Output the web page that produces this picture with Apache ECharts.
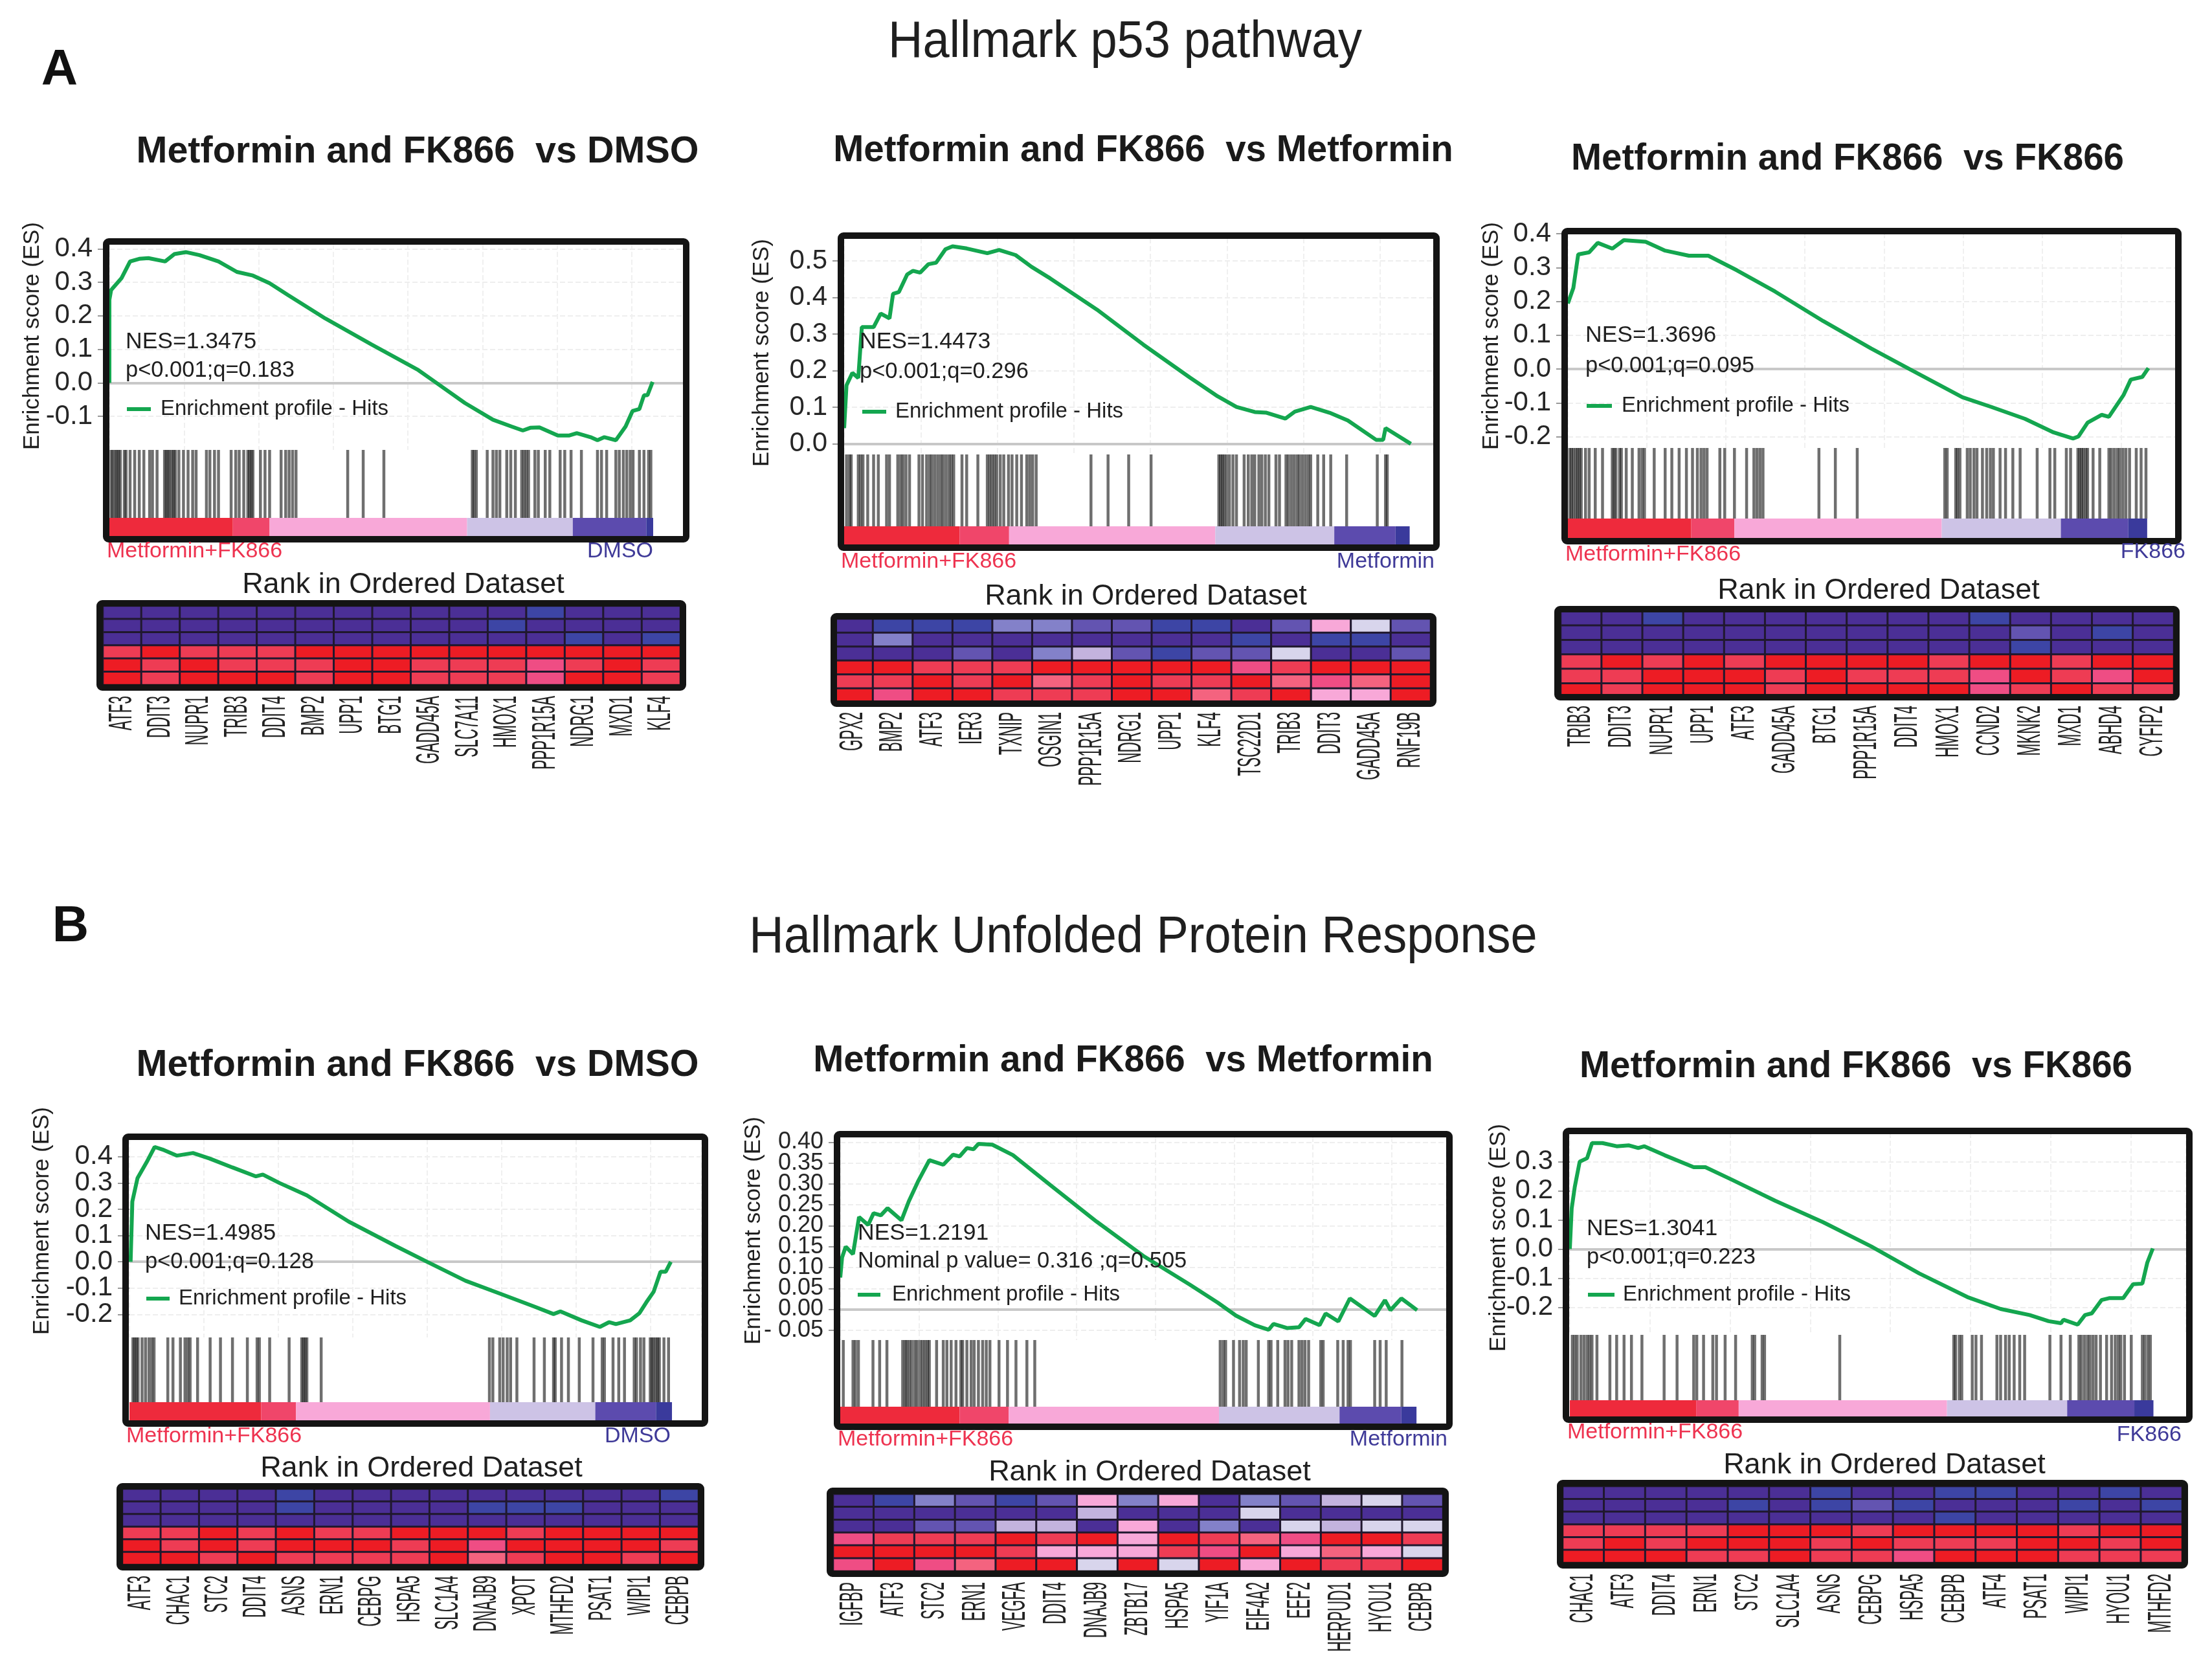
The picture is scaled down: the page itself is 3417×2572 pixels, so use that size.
<!DOCTYPE html>
<html><head><meta charset="utf-8">
<style>html,body{margin:0;padding:0;background:#fff}#c{width:3417px;height:2572px}</style>
<script src="https://cdn.jsdelivr.net/npm/echarts@6/dist/echarts.min.js"></script>
</head><body><div id="c"></div>
<script>
// ---------- data: enrichment curves [rank %, ES] ----------
const curveA1=[[0,0],[0,.248],[.3,.277],[2.1,.312],[3.6,.362],[5.2,.37],[6.8,.372],[9.7,.362],[11.3,.384],[13.3,.39],[15.7,.381],[19,.362],[22.2,.331],[25,.32],[27.9,.297],[31.1,.262],[37.6,.192],[45.7,.114],[53.8,.038],[56.7,.003],[61.9,-.06],[66.8,-.11],[70,-.13],[72,-.142],[73.3,-.134],[74.9,-.133],[78.1,-.157],[80.1,-.157],[81.4,-.15],[83.8,-.162],[85,-.171],[86.2,-.162],[88.2,-.171],[89.9,-.13],[91.1,-.084],[92.3,-.078],[93.1,-.037],[93.7,-.037],[94.6,.003]];
const curveA2=[[0,.043],[.4,.16],[1.4,.194],[2.4,.18],[3,.319],[5,.319],[6.2,.356],[7.7,.343],[8.3,.41],[9.3,.415],[10.7,.463],[11.7,.473],[12.9,.468],[14.3,.491],[15.6,.495],[17.2,.532],[18.4,.54],[20.8,.534],[24.3,.521],[26.3,.53],[29.1,.516],[31.8,.484],[35,.452],[42.9,.367],[50.8,.271],[58.7,.181],[63.4,.13],[66.6,.101],[69.7,.087],[71.7,.085],[74.9,.069],[76.5,.088],[79.2,.101],[82.4,.085],[85.5,.064],[90.3,.011],[91.5,.011],[91.9,.043],[96.2,0]];
const curveA3=[[0,.194],[.9,.24],[1.7,.339],[3.5,.345],[4.9,.373],[7.3,.356],[9.2,.381],[12.8,.376],[16,.35],[19.9,.335],[23.1,.335],[27.8,.292],[34.1,.229],[42,.142],[49.9,.061],[56.2,0],[64.9,-.083],[69.7,-.112],[75.2,-.147],[79.9,-.187],[83.1,-.205],[84,-.199],[85.5,-.158],[87.8,-.135],[89,-.141],[91.4,-.077],[92.6,-.031],[94.5,-.023],[95.5,.003]];
const curveB1=[[.2,0],[.5,.229],[1.4,.318],[3,.379],[4.4,.437],[5.8,.427],[8.3,.404],[11.1,.414],[14,.393],[18,.359],[22.1,.325],[23.3,.332],[26.2,.3],[31,.253],[38.3,.153],[46.5,.06],[52,.0],[58.7,-.072],[65.1,-.124],[70.8,-.171],[74.1,-.199],[75.3,-.189],[79,-.223],[82.2,-.248],[83.8,-.23],[85,-.237],[87.5,-.223],[89.1,-.196],[90.3,-.155],[91.6,-.114],[92.8,-.038],[93.7,-.038],[94.6,0]];
const curveB2=[[0,.076],[.3,.124],[.9,.15],[2.1,.132],[3.1,.221],[4.6,.202],[5.5,.23],[6.7,.225],[7.8,.242],[10.1,.213],[11.3,.258],[12.8,.305],[14.7,.357],[17,.346],[18.6,.37],[19.7,.366],[20.9,.386],[22,.383],[22.8,.396],[25.1,.394],[28.5,.369],[34.7,.297],[42.3,.21],[50,.128],[57.7,.059],[62.3,.016],[65.3,-.015],[68.4,-.038],[70.7,-.049],[71.5,-.035],[73.8,-.045],[75.7,-.043],[76.8,-.023],[79.1,-.038],[80.1,-.01],[82.2,-.029],[84.1,.026],[88.2,-.016],[89.9,.022],[90.8,-.002],[92.6,.026],[95.2,-.002]];
const curveB3=[[0,0],[.3,.139],[.8,.213],[1.6,.3],[2.8,.312],[3.6,.364],[5.3,.364],[7.6,.353],[9.6,.356],[11.1,.347],[12.1,.353],[15.4,.322],[20.1,.281],[22,.281],[26.3,.238],[33.3,.166],[41.1,.092],[48.9,.009],[56.7,-.084],[64.5,-.165],[69.9,-.206],[74.6,-.227],[77.7,-.248],[79.7,-.255],[80.1,-.243],[82.4,-.26],[83.6,-.227],[84.7,-.221],[86.3,-.175],[87.5,-.169],[89.8,-.169],[91.4,-.121],[92.9,-.119],[93.7,-.047],[94.6,.002]];
// ---------- data: gene hits (rank %) ----------
const hitsA1=[.3,.6,1,1.3,1.6,1.9,2.6,2.9,3.6,4.4,5.2,6,7,7.5,8.3,9.6,9.9,10.2,10.5,10.9,11.2,11.5,12.1,12.9,13.7,14.5,15.1,16.9,17.5,18.3,19,21.2,22,22.6,23.4,24.1,24.4,24.7,25,26.3,27.1,27.9,29.9,30.7,31.3,31.9,32.5,41.5,44.2,47.8,63.2,63.5,63.9,65.8,66.8,67.4,68,69.2,69.9,70.7,71.8,72.2,72.6,73,74.1,74.7,75.9,76.7,78.5,79.3,80.4,82.2,85,85.7,86.6,88.2,88.8,89.5,90.1,90.7,91.2,92.3,93.1,93.9,94.3];
const hitsA2=[.4,.9,1.2,2.4,2.8,3.2,4,5,5.8,7.2,7.7,9.1,9.6,10,10.5,11.1,12.7,13.3,14,14.5,14.9,15.4,15.9,16.4,16.8,17.3,17.8,18.2,18.6,20,20.8,22.7,24.3,24.7,25.1,25.5,25.9,26.5,27.1,27.9,28.5,29.3,30.1,31,31.5,32,32.6,41.9,44.8,48.3,52.1,63.6,63.9,64.2,64.5,64.9,65.4,66,66.6,67.9,68.6,69.2,69.7,70.4,70.9,71.5,72.1,73.3,73.9,75,75.4,75.9,76.4,76.9,77.3,77.8,78.3,78.8,79.2,80.4,81.4,82.6,85.3,90.5,91.9,92.2];
const hitsA3=[.3,.6,.9,1.3,1.6,1.9,2.2,2.9,3.5,4.5,5.7,7.3,7.6,7.9,8.5,8.8,9.6,10.6,11.7,12.2,12.6,14.2,16,17.1,18.3,19.5,20.5,21.3,21.9,22.4,22.9,25,25.8,27.4,29.4,30.6,31.1,31.6,32.1,41.3,44,47.6,62,62.4,63.8,64.1,64.5,65.7,66.2,66.8,67.3,68.2,68.9,69.5,70,71.1,72,73.2,74.4,77.2,79.3,80.1,82,82.7,83.9,84.2,84.5,84.8,85.2,85.5,86.4,87.5,89,89.4,89.9,90.4,90.8,91.3,91.8,92.4,93.5,94.3,95.1];
const hitsB1=[.6,.9,1.2,1.5,2.2,2.8,3.4,3.9,4.3,6.7,7.6,8.9,9.7,10.2,10.6,11.9,14.1,15.9,18,20.6,22.3,22.7,24.5,27.9,30.1,30.4,30.7,31,33.5,62.9,63.5,64.7,65.3,66,66.6,67.7,70.7,72.5,74.1,74.4,75.5,76.7,78.6,81,82.6,83,84.5,85.5,86.5,88.2,88.6,89.3,89.9,91,91.3,91.6,92,92.3,92.6,93.4,94.2];
const hitsB2=[.5,2.1,2.5,3,5.4,6.5,7.7,10.3,10.7,11,11.4,11.8,12.3,12.7,13.2,13.6,14,14.4,14.7,15.9,17,17.6,18.3,19.1,19.9,20.2,20.9,21.6,22.1,22.8,23.5,24.1,24.7,26.2,27.6,29,30.8,32.1,62.7,63.2,63.6,64.9,65.9,66.5,67,69,70.7,71.1,72.2,73.4,73.9,74.5,75.7,76.2,76.7,77.3,79.3,79.7,82.1,83,83.8,84.2,88.2,89.1,90.1,92.7];
const hitsB3=[.4,.8,1.2,1.8,2.3,2.8,3.2,3.6,4.4,6.5,7.6,8.8,10,11.7,15.3,17.4,20.1,20.6,21.7,23.2,23.8,25.2,26.9,29.6,30,31.2,31.6,43.8,62.3,62.6,63.2,63.6,65.3,65.9,66.8,69.3,69.9,70.7,71.3,72.1,73,73.8,77.9,79.7,81.2,82.6,83,83.5,84,84.4,84.9,85.4,86.1,87.1,87.9,88.5,89,89.4,90,91.1,92.9,93.3,93.8,94.2];
// ---------- data: ranking strip boundaries (rank %): hot, pink, lavender, purple, navy, end ----------
const stripA1=[21.5,27.9,62.3,80.7,93.5,94.7];
const stripA2=[19.6,28,63,83.2,93.6,96];
const stripA3=[20.3,27.4,61.5,81.1,92.2,95.3];
const stripB1=[23,29.1,63,81.4,92,94.8];
const stripB2=[19.7,27.8,62.5,82.4,92.6,95.1];
const stripB3=[20.5,27.4,61.2,80.7,91.6,94.7];
// ---------- data: gene labels ----------
const genesA1=['ATF3','DDIT3','NUPR1','TRIB3','DDIT4','BMP2','UPP1','BTG1','GADD45A','SLC7A11','HMOX1','PPP1R15A','NDRG1','MXD1','KLF4'];
const genesA2=['GPX2','BMP2','ATF3','IER3','TXNIP','OSGIN1','PPP1R15A','NDRG1','UPP1','KLF4','TSC22D1','TRIB3','DDIT3','GADD45A','RNF19B'];
const genesA3=['TRIB3','DDIT3','NUPR1','UPP1','ATF3','GADD45A','BTG1','PPP1R15A','DDIT4','HMOX1','CCND2','MKNK2','MXD1','ABHD4','CYFIP2'];
const genesB1=['ATF3','CHAC1','STC2','DDIT4','ASNS','ERN1','CEBPG','HSPA5','SLC1A4','DNAJB9','XPOT','MTHFD2','PSAT1','WIPI1','CEBPB'];
const genesB2=['IGFBP','ATF3','STC2','ERN1','VEGFA','DDIT4','DNAJB9','ZBTB17','HSPA5','YIF1A','EIF4A2','EEF2','HERPUD1','HYOU1','CEBPB'];
const genesB3=['CHAC1','ATF3','DDIT4','ERN1','STC2','SLC1A4','ASNS','CEBPG','HSPA5','CEBPB','ATF4','PSAT1','WIPI1','HYOU1','MTHFD2'];
// ---------- data: heat rows, top to bottom, as palette levels ----------
const heatA1=[[0,0,0,0,0,0,0,0,0,0,0,1,0,0,0],[0,0,0,0,0,0,0,0,0,0,1,0,0,0,0],[0,0,0,0,0,0,0,0,0,0,0,0,1,0,1],[9,10,9,9,9,10,10,10,10,10,10,10,10,10,10],[10,9,10,9,9,9,10,10,9,9,9,7,9,10,9],[10,9,10,10,10,9,10,10,9,9,9,7,10,10,9]];
const heatA2=[[0,1,1,1,3,3,2,2,1,1,0,2,6,5,2],[0,3,0,0,0,0,0,0,0,0,1,0,1,1,0],[0,0,0,2,0,3,4,2,1,2,2,5,0,0,2],[10,10,9,9,9,10,10,10,10,10,7,9,10,10,10],[9,9,10,9,10,8,9,10,9,9,10,8,7,8,10],[10,7,10,10,9,9,9,10,10,8,9,10,6,6,10]];
const heatA3=[[0,0,1,0,0,0,0,0,0,0,1,0,0,0,0],[0,0,0,0,0,0,0,0,0,0,0,2,0,1,0],[0,0,0,0,0,0,0,0,0,0,0,1,0,0,0],[9,10,9,10,9,10,10,10,10,9,10,10,9,10,10],[9,9,10,10,10,9,10,9,9,9,7,10,9,7,10],[10,9,10,10,10,9,10,10,10,10,7,9,10,9,9]];
const heatB1=[[0,0,0,0,1,0,0,0,0,0,0,0,0,0,1],[0,0,0,0,1,0,0,0,0,1,1,1,0,0,0],[0,0,0,0,0,0,0,0,0,0,0,0,0,0,0],[9,9,10,9,10,9,9,10,10,10,9,10,10,10,10],[10,9,10,9,10,10,10,9,10,7,10,10,10,10,9],[10,10,9,10,9,9,9,9,10,8,9,10,10,9,10]];
const heatB2=[[0,1,3,2,1,2,6,3,6,0,3,2,4,5,2],[0,0,0,0,0,0,4,0,0,0,5,0,0,0,0],[0,0,2,2,4,4,0,6,0,3,0,5,4,5,5],[7,9,9,9,10,9,10,6,10,9,8,7,10,10,9],[10,10,10,10,9,6,6,6,9,7,10,6,8,6,5],[7,10,7,8,10,10,5,10,5,10,6,10,9,9,10]];
const heatB3=[[0,0,0,0,0,0,1,0,0,1,1,0,0,1,0],[0,0,0,0,1,0,1,2,1,0,0,0,1,0,1],[0,0,0,0,0,0,0,0,0,1,0,0,0,0,0],[9,9,9,9,10,10,10,9,10,10,10,10,9,10,10],[9,10,9,10,10,10,9,10,9,9,9,10,10,9,10],[10,10,10,9,9,10,9,9,7,10,10,10,9,9,9]];
// ---------- data: y ticks ----------
const ticksA1=[-.1,0,.1,.2,.3,.4];
const ticksA2=[0,.1,.2,.3,.4,.5];
const ticksA3=[-.2,-.1,0,.1,.2,.3,.4];
const ticksB1=[-.2,-.1,0,.1,.2,.3,.4];
const ticksB2=[-.05,0,.05,.1,.15,.2,.25,.3,.35,.4];
const ticksB3=[-.2,-.1,0,.1,.2,.3];
// ---------- styles ----------
const heatPalette=['#4b2f96','#3d45a5','#6354b1','#8381c9','#c3b3de','#d8d5ec','#f8a8d8','#ef4d84','#f4637f','#ee3c54','#ed1c24'];
const stripColors=['#ee2a3c','#f0466a','#f8a8d8','#cdc3e6','#5c4bae','#3a3a9c'];
const SANS='"Liberation Sans",Arial,sans-serif';
const INK='#1f1f1f',RED='#ee3350',BLUE='#3f3a98',GREEN='#14a64f';
// ---------- layout (pixels) ----------
const panels=[
 {curve:curveA1,hits:hitsA1,strip:stripA1,genes:genesA1,heat:heatA1,ticks:ticksA1,yr:[-.2,.414],dec:1,
  nes:'NES=1.3475',p:'p<0.001;q=0.183',right:'DMSO',title:'Metformin and FK866  vs DMSO',ts:57.5,
  frame:[159,368,1065,838],inner:[169,377,1056,829],esB:695,stripT:800,
  hf:[149,927,1060,1067],hi:[159,936,1051,1058],
  tx:[645,235],ylab:[50,519],nx:194,ny:[528,572],lg:[196,233,248,632],mx:[165,852],rx:[1009,852],rk:[623,904]},
 {curve:curveA2,hits:hitsA2,strip:stripA2,genes:genesA2,heat:heatA2,ticks:ticksA2,yr:[-.029,.562],dec:1,
  nes:'NES=1.4473',p:'p<0.001;q=0.296',right:'Metformin',title:'Metformin and FK866  vs Metformin',ts:56.5,
  frame:[1294,359,2224,851],inner:[1304,368,2214,843],esB:702,stripT:813,
  hf:[1283,947,2219,1092],hi:[1287,956,2210,1085],
  tx:[1766,233],ylab:[1177,545],nx:1328,ny:[528,574],lg:[1332,1369,1383,636],mx:[1299,868],rx:[2216,868],rk:[1770,922]},
 {curve:curveA3,hits:hitsA3,strip:stripA3,genes:genesA3,heat:heatA3,ticks:ticksA3,yr:[-.233,.402],dec:1,
  nes:'NES=1.3696',p:'p<0.001;q=0.095',right:'FK866',title:'Metformin and FK866  vs FK866',ts:56.5,
  frame:[2412,352,3370,841],inner:[2422,360,3361,833],esB:692,stripT:801,
  hf:[2401,936,3367,1082],hi:[2411,944,3358,1078],
  tx:[2854,246],ylab:[2304,519],nx:2449,ny:[518,565],lg:[2451,2490,2505,627],mx:[2418,857],rx:[3376,853],rk:[2902,913]},
 {curve:curveB1,hits:hitsB1,strip:stripB1,genes:genesB1,heat:heatB1,ticks:ticksB1,yr:[-.288,.466],dec:1,
  nes:'NES=1.4985',p:'p<0.001;q=0.128',right:'DMSO',title:'Metformin and FK866  vs DMSO',ts:57.5,
  frame:[189,1751,1094,2204],inner:[200,1760,1084,2196],esB:2066,stripT:2166,
  hf:[180,2291,1088,2426],hi:[189,2300,1079,2417],
  tx:[645,1646],ylab:[65,1886],nx:224,ny:[1905,1949],lg:[226,262,276,2006],mx:[195,2219],rx:[1036,2219],rk:[651,2269]},
 {curve:curveB2,hits:hitsB2,strip:stripB2,genes:genesB2,heat:heatB2,ticks:ticksB2,yr:[-.0735,.413],dec:2,
  nes:'NES=1.2191',p:'Nominal p value= 0.316 ;q=0.505',right:'Metformin',title:'Metformin and FK866  vs Metformin',ts:56.5,
  frame:[1288,1747,2244,2209],inner:[1298,1756,2234,2201],esB:2070,stripT:2173,
  hf:[1277,2298,2238,2436],hi:[1287,2308,2229,2427],
  tx:[1735,1639],ylab:[1164,1901],nx:1325,ny:[1905,1948],lg:[1325,1360,1378,2000],mx:[1294,2224],rx:[2236,2224],rk:[1776,2275]},
 {curve:curveB3,hits:hitsB3,strip:stripB3,genes:genesB3,heat:heatB3,ticks:ticksB3,yr:[-.295,.399],dec:1,
  nes:'NES=1.3041',p:'p<0.001;q=0.223',right:'FK866',title:'Metformin and FK866  vs FK866',ts:56.5,
  frame:[2414,1742,3387,2198],inner:[2425,1750,3377,2190],esB:2062,stripT:2163,
  hf:[2405,2286,3380,2423],hi:[2414,2296,3371,2414],
  tx:[2867,1648],ylab:[2315,1912],nx:2451,ny:[1898,1942],lg:[2453,2494,2507,2000],mx:[2421,2213],rx:[3370,2217],rk:[2911,2264]}
];
const grid=[],xAxis=[],yAxis=[],series=[],graphic=[];
function txt(text,x,y,size,opt={}){
  graphic.push({type:'text',x,y,z:120,rotation:opt.rot||0,scaleX:opt.sx||1,silent:true,style:{text,
    font:`${opt.weight||'normal'} ${size}px ${opt.family||SANS}`,fill:opt.fill||INK,
    textAlign:opt.align||'left',textVerticalAlign:'middle'}});
}
function frame(b,w){
  graphic.push({type:'rect',z:110,silent:true,shape:{x:b[0]+w/2,y:b[1]+w/2,width:b[2]-b[0]-w,height:b[3]-b[1]-w,r:4},
    style:{fill:'none',stroke:'#141414',lineWidth:w}});
}
function addGrid(l,t,r,b,extra){
  grid.push(Object.assign({left:l,top:t,width:r-l,height:b-t,containLabel:false,outerBoundsMode:'none'},extra||{}));
  return grid.length-1;
}
const hiddenX=(i,split)=>({gridIndex:i,type:'value',min:0,max:100,interval:13,axisLine:{show:false},axisTick:{show:false},axisLabel:{show:false},
  splitLine:{show:!!split,lineStyle:{color:'#f0f0f0',type:'dashed',width:2}}});
const hiddenY=(i)=>({gridIndex:i,type:'value',min:0,max:1,interval:1,axisLine:{show:false},axisTick:{show:false},axisLabel:{show:false},splitLine:{show:false}});

panels.forEach(p=>{
  const [il,it,ir,ib]=p.inner;
  // ES curve
  const g0=addGrid(il,it,ir,p.esB);
  xAxis.push(hiddenX(g0,true));
  // The axis ends carry empty labels so that ECharts' end-label overlap check never removes a real tick label.
  const fmt=v=>{ if(v===p.yr[0]||v===p.yr[1]) return ''; if(p.dec===2&&v<0) return '- '+Math.abs(v).toFixed(2); return v.toFixed(p.dec); };
  yAxis.push({gridIndex:g0,type:'value',min:p.yr[0],max:p.yr[1],
    axisLine:{show:false},axisTick:{show:true,length:18,inside:false,customValues:p.ticks,lineStyle:{color:'#999',width:2}},
    axisLabel:{customValues:[p.yr[0],...p.ticks,p.yr[1]],formatter:fmt,fontFamily:SANS,fontSize:p.dec===2?36:42,lineHeight:20,color:'#262626',margin:26,hideOverlap:false},
    splitLine:{show:true,lineStyle:{color:'#eeeeee',type:'dashed',width:2}}});
  series.push({type:'line',xAxisIndex:g0,yAxisIndex:g0,data:p.curve,showSymbol:false,silent:true,animation:false,
    lineStyle:{color:GREEN,width:6},z:5,
    markLine:{silent:true,symbol:'none',label:{show:false},animation:false,lineStyle:{color:'#c8c8c8',type:'solid',width:4},data:[{yAxis:0}]}});
  // hits
  const g1=addGrid(il,p.esB,ir,p.stripT);
  xAxis.push(hiddenX(g1));yAxis.push(hiddenY(g1));
  series.push({type:'custom',xAxisIndex:g1,yAxisIndex:g1,silent:true,animation:false,z:4,clip:true,
    data:p.hits.map(v=>[v]),encode:{x:0},
    renderItem:(par,api)=>{const a=api.coord([api.value(0),0]),b=api.coord([api.value(0),1]);
      return {type:'line',shape:{x1:a[0],y1:a[1],x2:b[0],y2:b[1]},style:{stroke:'rgba(15,15,15,.6)',lineWidth:4.5}};}});
  // rank strip
  const g2=addGrid(il,p.stripT,ir,ib);
  xAxis.push(hiddenX(g2));yAxis.push(hiddenY(g2));
  const bounds=[0,...p.strip];
  series.push({type:'custom',xAxisIndex:g2,yAxisIndex:g2,silent:true,animation:false,z:3,
    data:p.strip.map((e,i)=>[bounds[i],e,i]),encode:{x:[0,1]},
    renderItem:(par,api)=>{const a=api.coord([api.value(0),1]),b=api.coord([api.value(1),0]);
      return {type:'rect',shape:{x:a[0],y:a[1],width:b[0]-a[0],height:b[1]-a[1]},style:{fill:stripColors[api.value(2)]}};}});
  // heat
  const g3=addGrid(p.hi[0],p.hi[1],p.hi[2],p.hi[3],{show:true,backgroundColor:'#1a1a24',borderWidth:0});
  xAxis.push({gridIndex:g3,type:'category',data:p.genes,axisLine:{show:false},axisTick:{show:false},axisLabel:{show:false},splitLine:{show:false},splitArea:{show:false}});
  yAxis.push({gridIndex:g3,type:'category',inverse:true,data:['r1','r2','r3','r4','r5','r6'],show:false});
  const cells=[];
  p.heat.forEach((row,r)=>row.forEach((lvl,c)=>cells.push({value:[c,r,lvl],itemStyle:{color:heatPalette[lvl]}})));
  series.push({type:'heatmap',xAxisIndex:g3,yAxisIndex:g3,data:cells,silent:true,animation:false,progressive:0,
    label:{show:false},itemStyle:{borderColor:'#20182e',borderWidth:3}});
  // condensed gene labels, placed by the heat's category axis
  const labelY=p.hf[3]+8;
  series.push({type:'custom',xAxisIndex:g3,yAxisIndex:g3,silent:true,animation:false,clip:false,z:6,
    data:p.genes.map((g,i)=>[i,0]),encode:{x:0,y:1},
    renderItem:(par,api)=>{const i=par.dataIndex,a=api.coord([i,0]);
      return {type:'text',x:a[0],y:labelY,rotation:Math.PI/2,scaleX:.45,style:{text:p.genes[i],font:`50px ${SANS}`,fill:'#222',textAlign:'right',textVerticalAlign:'middle'}};}});
  // frames and texts
  frame(p.frame,10);
  frame(p.hf,10);
  txt(p.title,p.tx[0],p.tx[1],p.ts,{weight:'bold',align:'center',fill:'#1a1a1a'});
  txt('Enrichment score (ES)',p.ylab[0],p.ylab[1],35,{rot:Math.PI/2,align:'center'});
  txt(p.nes,p.nx,p.ny[0],35.5);
  txt(p.p,p.nx,p.ny[1],34.5);
  graphic.push({type:'line',z:115,silent:true,shape:{x1:p.lg[0],y1:p.lg[3],x2:p.lg[1],y2:p.lg[3]},style:{stroke:GREEN,lineWidth:6}});
  txt('Enrichment profile - Hits',p.lg[2],p.lg[3],33);
  txt('Metformin+FK866',p.mx[0],p.mx[1],34,{fill:RED});
  txt(p.right,p.rx[0],p.rx[1],34,{fill:BLUE,align:'right'});
  txt('Rank in Ordered Dataset',p.rk[0],p.rk[1],45,{align:'center'});
});
txt('Hallmark p53 pathway',1738,66,80,{align:'center',sx:.925});
txt('Hallmark Unfolded Protein Response',1766,1449,80,{align:'center',sx:.925});
txt('A',92,109,78,{weight:'bold',align:'center',fill:'#111'});
txt('B',109,1432,78,{weight:'bold',align:'center',fill:'#111'});

const chart=echarts.init(document.getElementById('c'),null,{width:3417,height:2572,renderer:'canvas'});
chart.setOption({animation:false,backgroundColor:'#fff',grid,xAxis,yAxis,series,graphic:{elements:graphic}});
</script></body></html>
